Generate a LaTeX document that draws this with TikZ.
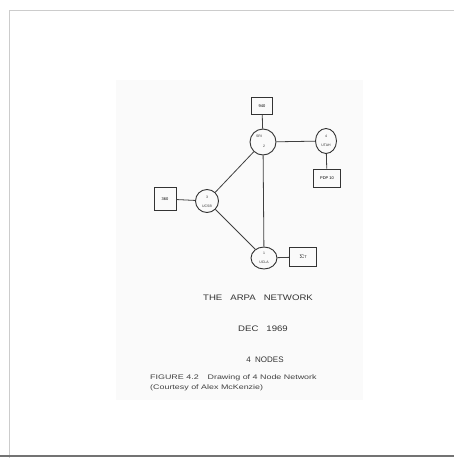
\documentclass[tikz,border=0pt]{standalone}
\usepackage{fontspec}
\setsansfont{Liberation Sans}
\usetikzlibrary{shapes.geometric}
\begin{document}
\begin{tikzpicture}[x=1pt,y=-1pt,
  imp/.style={draw=black!80,line width=0.9pt,ellipse,inner sep=0pt},
  host/.style={draw=black!80,line width=0.9pt,rectangle,inner sep=0pt,font=\sffamily\fontsize{4}{4.5}\selectfont},
  link/.style={draw=black!75,line width=0.8pt},
  hand/.style={font=\sffamily\fontsize{8}{9}\selectfont,text=black!80},
  capt/.style={font=\sffamily\fontsize{6.6}{7}\selectfont,text=black!75,align=left,anchor=west,inner sep=0pt},
  tiny/.style={font=\sffamily\fontsize{3.5}{4}\selectfont,text=black!80,inner sep=0pt}]
\useasboundingbox (0,0) rectangle (454,458);
\fill[white] (0,0) rectangle (454,458);
% frame
\draw[black!20,line width=1pt] (9,459) -- (9,10) -- (455,10);
\draw[black!55,line width=1.2pt] (0,456) -- (454,456);
% page
\fill[black!2] (116,80) rectangle (363,400);
% IMP circles
\node[imp,minimum width=26pt,minimum height=26pt] (sri) at (263,142) {};
\node[imp,minimum width=21pt,minimum height=25pt] (utah) at (326,141) {};
\node[imp,minimum width=23pt,minimum height=23pt] (ucsb) at (207,201) {};
\node[imp,minimum width=26pt,minimum height=22pt] (ucla) at (264,258) {};
\node[tiny] at (259,136) {SRI};
\node[tiny] at (264,146) {2};
\node[tiny] at (326,136) {4};
\node[tiny] at (326,145) {UTAH};
\node[tiny] at (207,197) {3};
\node[tiny] at (207,206) {UCSB};
\node[tiny] at (264,253) {1};
\node[tiny] at (264,262) {UCLA};
% hosts
\node[host,minimum width=21pt,minimum height=17pt] (h940) at (262,106) {940};
\node[host,minimum width=27pt,minimum height=18pt] (hpdp) at (327,178) {PDP 10};
\node[host,minimum width=22pt,minimum height=23pt] (h360) at (165,199) {360};
\node[host,minimum width=27pt,minimum height=19pt] (hsig) at (303,257) {$\Sigma$7};
% links
\draw[link] (sri) -- (utah);
\draw[link] (sri) -- (ucsb);
\draw[link] (sri) -- (ucla);
\draw[link] (ucsb) -- (ucla);
\draw[link] (h940) -- (sri);
\draw[link] (utah) -- (hpdp);
\draw[link] (h360) -- (ucsb);
\draw[link] (ucla) -- (hsig);
% handwritten titles
\node[hand] (t1) at (258,298) {\scalebox{1.2}[1]{THE\ \ \ ARPA\ \ \ NETWORK}};
\node[hand] (t2) at (263,329) {\scalebox{1.2}[1]{DEC\ \ \ 1969}};
\node[hand] (t3) at (265,360) {4\ \ NODES};
% caption
\node[capt] (c1) at (150,378) {\scalebox{1.35}[1]{FIGURE 4.2\quad Drawing of 4 Node Network}};
\node[capt] (c2) at (150,388) {\scalebox{1.35}[1]{(Courtesy of Alex McKenzie)}};
\end{tikzpicture}
\end{document}
